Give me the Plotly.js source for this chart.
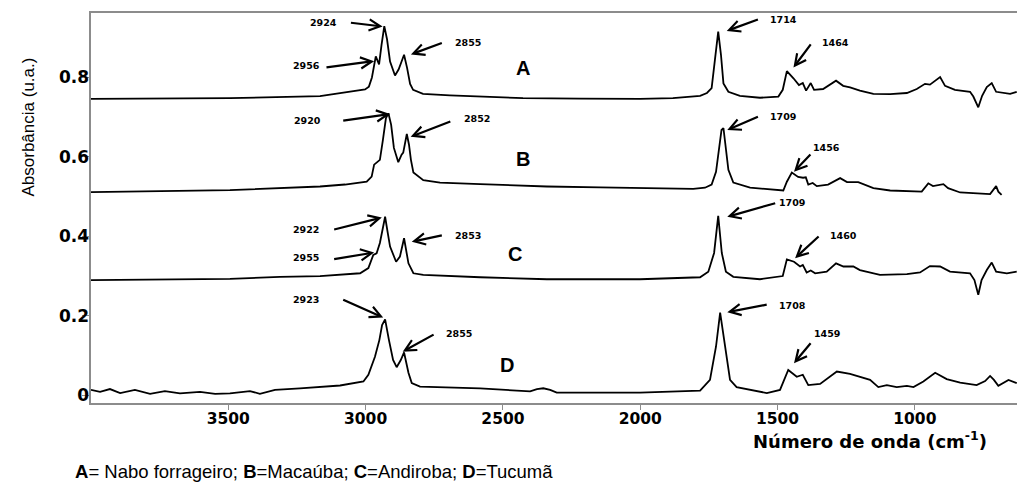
<!DOCTYPE html>
<html>
<head>
<meta charset="utf-8">
<script src="https://cdn.plot.ly/plotly-3.0.1.min.js"></script>
<style>
html,body{margin:0;padding:0;background:#fff;}
#chart{width:1017px;height:483px;}
</style>
</head>
<body>
<div id="chart"></div>
<script>
// ---- data (wavenumber cm-1, absorbance u.a.) ----
const wnA = [4000,3749,3494,3166,3075,3002,2988,2977,2963,2951,2942,2932,2922,2911,2893,2880,2869,2860,2849,2838,2827,2791,2693,2583,2427,2219,2001,1881,1782,1757,1740,1728,1716,1706,1697,1679,1637,1564,1497,1481,1466,1442,1422,1408,1396,1379,1367,1334,1287,1261,1236,1200,1151,1090,1029,993,963,945,908,890,854,799,787,769,755,738,720,704,679,653,629];
const absA = [0.745,0.746,0.747,0.752,0.761,0.769,0.776,0.799,0.852,0.832,0.881,0.928,0.895,0.839,0.804,0.819,0.839,0.856,0.823,0.783,0.768,0.758,0.754,0.751,0.747,0.746,0.745,0.747,0.753,0.760,0.772,0.843,0.914,0.856,0.784,0.763,0.753,0.748,0.751,0.768,0.815,0.797,0.780,0.785,0.766,0.785,0.768,0.770,0.791,0.778,0.774,0.766,0.758,0.757,0.760,0.770,0.783,0.781,0.800,0.778,0.768,0.763,0.751,0.724,0.753,0.775,0.785,0.763,0.760,0.758,0.763];

const wnB = [4000,3785,3494,3166,3075,2996,2978,2969,2960,2948,2937,2926,2917,2907,2897,2881,2869,2863,2850,2842,2835,2826,2790,2729,2583,2340,2146,2001,1807,1764,1740,1724,1713,1704,1697,1688,1679,1661,1600,1479,1466,1448,1425,1407,1397,1388,1372,1357,1316,1272,1247,1206,1151,1090,975,951,934,896,879,835,726,704,696,684];
const absB = [0.511,0.513,0.516,0.525,0.530,0.537,0.550,0.580,0.586,0.592,0.642,0.697,0.709,0.680,0.622,0.586,0.605,0.610,0.657,0.630,0.592,0.560,0.541,0.535,0.531,0.525,0.523,0.521,0.519,0.522,0.530,0.562,0.622,0.667,0.672,0.617,0.567,0.535,0.522,0.515,0.537,0.560,0.549,0.547,0.548,0.530,0.534,0.526,0.530,0.546,0.536,0.536,0.521,0.515,0.512,0.533,0.526,0.531,0.521,0.510,0.506,0.526,0.512,0.504];

const wnC = [4000,3749,3494,3312,3166,3020,2990,2972,2960,2948,2938,2929,2920,2911,2889,2875,2860,2844,2826,2790,2583,2340,2001,1782,1752,1731,1716,1703,1688,1661,1564,1481,1466,1440,1418,1408,1394,1379,1363,1321,1287,1260,1224,1200,1127,1029,981,945,908,872,799,783,769,757,738,720,704,665,629];
const absC = [0.290,0.291,0.293,0.298,0.300,0.307,0.320,0.353,0.357,0.383,0.421,0.449,0.411,0.374,0.336,0.349,0.395,0.332,0.307,0.303,0.297,0.292,0.292,0.297,0.311,0.358,0.451,0.358,0.311,0.298,0.292,0.300,0.342,0.336,0.324,0.328,0.309,0.314,0.307,0.311,0.332,0.324,0.324,0.315,0.303,0.305,0.309,0.325,0.324,0.311,0.307,0.290,0.253,0.290,0.315,0.334,0.311,0.307,0.311];

const wnD = [4000,3967,3931,3894,3840,3785,3731,3676,3603,3548,3494,3421,3385,3330,3239,3166,3093,3008,2990,2966,2950,2940,2929,2915,2900,2887,2872,2860,2844,2832,2802,2583,2401,2376,2353,2328,2304,2001,1782,1746,1724,1709,1691,1673,1649,1539,1491,1473,1461,1430,1408,1388,1345,1284,1236,1163,1133,1102,1066,1029,1005,969,926,884,835,775,744,726,712,696,659,629];
const absD = [0.014,0.009,0.016,0.006,0.014,0.004,0.011,0.005,0.009,0.004,0.005,0.011,0.004,0.014,0.018,0.022,0.025,0.035,0.052,0.097,0.139,0.177,0.191,0.139,0.089,0.071,0.089,0.108,0.057,0.031,0.022,0.018,0.010,0.016,0.018,0.014,0.007,0.007,0.012,0.039,0.123,0.208,0.123,0.039,0.021,0.006,0.014,0.043,0.064,0.047,0.052,0.026,0.029,0.060,0.054,0.039,0.021,0.026,0.021,0.024,0.021,0.035,0.057,0.041,0.032,0.026,0.036,0.049,0.039,0.024,0.039,0.031];

const seriesNames = ['A','B','C','D'];
const xTickVals = [3500,3000,2500,2000,1500,1000];
const yTickVals = [0,0.2,0.4,0.6,0.8];
const yTickText = ['0','0.2','0.4','0.6','0.8'];
const legendText = '<b>A</b>= Nabo forrageiro; <b>B</b>=Macaúba; <b>C</b>=Andiroba; <b>D</b>=Tucumã';

// peak labels: [text, label x, label y, arrow tail x, tail y, arrow head x, head y]
const peakLabels = [
  ['2924',3153,0.937, 3059,0.937, 2938,0.927],
  ['2956',3217,0.829, 3148,0.824, 2969,0.840],
  ['2855',2626,0.886, 2717,0.887, 2835,0.857],
  ['1714',1479,0.945, 1566,0.946, 1685,0.916],
  ['1464',1289,0.886, 1375,0.886, 1442,0.824],
  ['2920',3211,0.690, 3087,0.690, 2911,0.707],
  ['2852',2595,0.695, 2686,0.690, 2836,0.650],
  ['1709',1479,0.702, 1566,0.702, 1683,0.667],
  ['1456',1320,0.624, 1375,0.609, 1440,0.562],
  ['2922',3217,0.418, 3120,0.416, 2941,0.447],
  ['2955',3217,0.346, 3120,0.342, 2969,0.359],
  ['2853',2626,0.403, 2717,0.403, 2832,0.386],
  ['1709',1447,0.484, 1503,0.484, 1683,0.449],
  ['1460',1259,0.403, 1345,0.403, 1436,0.345],
  ['2923',3217,0.242, 3087,0.242, 2936,0.196],
  ['2855',2659,0.155, 2747,0.155, 2865,0.110],
  ['1708',1447,0.227, 1534,0.229, 1683,0.209],
  ['1459',1320,0.155, 1375,0.135, 1440,0.081]
];
// series letter positions
const letterPos = [[2426,0.822],[2426,0.593],[2456,0.356],[2485,0.077]];

const xs = [wnA,wnB,wnC,wnD];
const ys = [absA,absB,absC,absD];
const traces = xs.map((x,i)=>({
  x:x, y:ys[i], type:'scatter', mode:'lines', name:seriesNames[i],
  line:{color:'#000', width:1.8}, hoverinfo:'skip'
}));

const numFont = 'DejaVu Sans, Verdana, sans-serif';
const annotations = [];
peakLabels.forEach(p=>{
  annotations.push({x:p[1], y:p[2], xref:'x', yref:'y', text:p[0], showarrow:false,
    xanchor:'center', yanchor:'middle', font:{family:numFont, size:9.5, color:'#000', weight:'bold'}});
  annotations.push({x:p[5], y:p[6], xref:'x', yref:'y', ax:p[3], ay:p[4], axref:'x', ayref:'y',
    text:'', showarrow:true, arrowhead:5, arrowsize:1, arrowwidth:2.2, arrowcolor:'#000'});
});
letterPos.forEach((p,i)=>{
  annotations.push({x:p[0], y:p[1], xref:'x', yref:'y', text:'<b>'+seriesNames[i]+'</b>', showarrow:false,
    xanchor:'center', yanchor:'middle', font:{family:'Liberation Sans, Arial, sans-serif', size:20, color:'#000'}});
});
annotations.push({x:(869.5-91)/926, y:(403-440)/390, xref:'paper', yref:'paper',
  text:'<b>Número de onda (cm<sup>-1</sup>)</b>', showarrow:false, xanchor:'center', yanchor:'middle',
  font:{family:numFont, size:18, color:'#000'}});
annotations.push({x:(28-91)/926, y:(403-127.5)/390, xref:'paper', yref:'paper', textangle:-90,
  text:'Absorbância (u.a.)', showarrow:false, xanchor:'center', yanchor:'middle',
  font:{family:'Liberation Sans Narrow, Liberation Sans, Arial, sans-serif', size:17, color:'#000'}});
annotations.push({x:(73-91)/926, y:(403-471)/390, xref:'paper', yref:'paper',
  text:legendText, showarrow:false, xanchor:'left', yanchor:'middle',
  font:{family:'Liberation Sans, Arial, sans-serif', size:18.5, color:'#000'}});

const layout = {
  width:1017, height:483,
  margin:{l:91, r:0, t:13, b:80, pad:0},
  paper_bgcolor:'#fff', plot_bgcolor:'#fff',
  showlegend:false,
  xaxis:{range:[4000,628], tickvals:xTickVals, showgrid:false, zeroline:false,
    showline:true, mirror:true, linecolor:'#8c8c8c', linewidth:2,
    ticks:'outside', ticklen:5, tickcolor:'#8c8c8c', tickwidth:1, ticklabelstandoff:-5,
    tickfont:{family:numFont, size:15.5, color:'#000', weight:'bold'}},
  yaxis:{range:[-0.019,0.961], tickvals:yTickVals, ticktext:yTickText, showgrid:false, zeroline:false,
    showline:true, linecolor:'#8c8c8c', linewidth:2.5,
    ticks:'outside', ticklen:7, tickcolor:'#8c8c8c', tickwidth:1, ticklabelstandoff:-11,
    tickfont:{family:numFont, size:17, color:'#000', weight:'bold'}},
  annotations:annotations
};
Plotly.newPlot('chart', traces, layout, {staticPlot:true, displayModeBar:false});
</script>
</body>
</html>
